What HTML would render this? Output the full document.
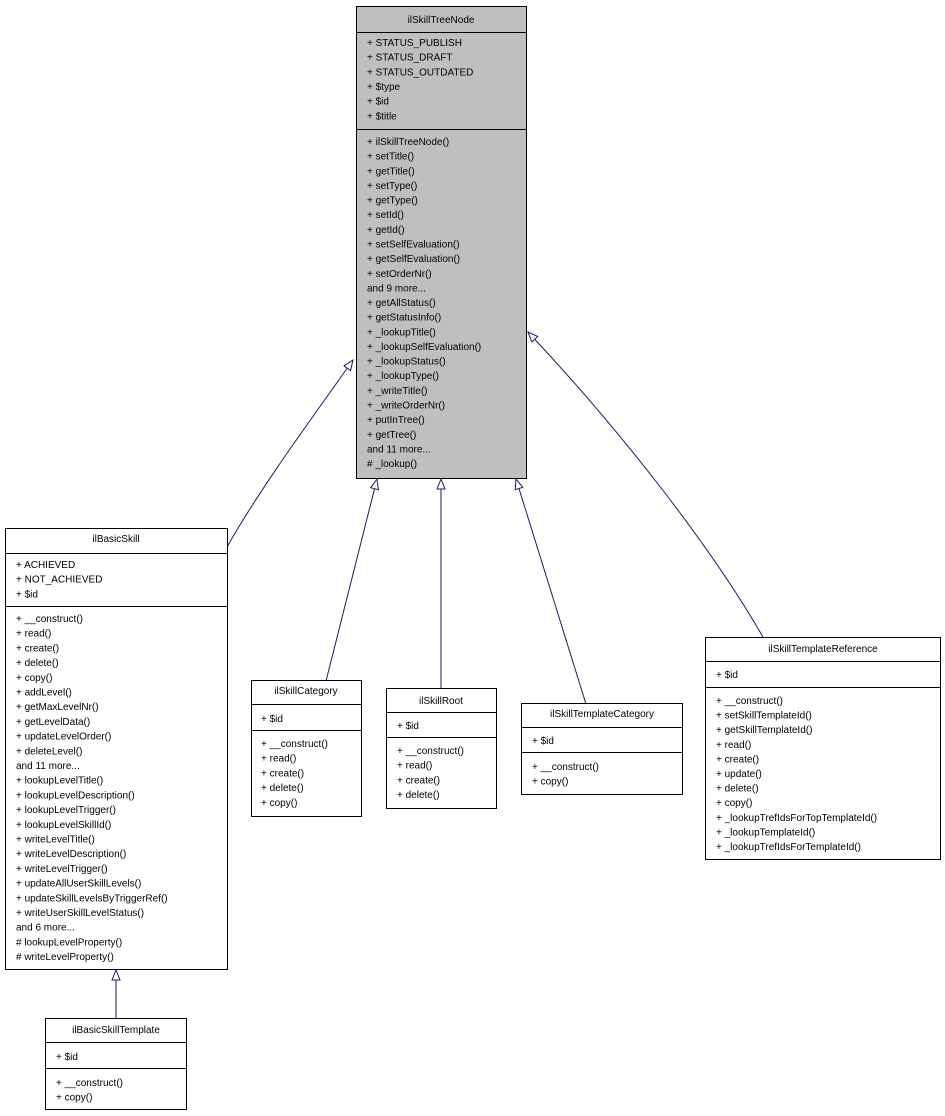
<!DOCTYPE html>
<html><head><meta charset="utf-8"><style>
html,body{margin:0;padding:0;background:#fff}
svg{display:block}
text{font-family:"Liberation Sans",Arial,sans-serif;font-size:10px;fill:#000}
</style></head><body>
<svg width="945" height="1116" viewBox="0 0 945 1116" xmlns="http://www.w3.org/2000/svg">
<defs>
<marker id="a" markerWidth="12" markerHeight="10" refX="11" refY="4.5" orient="auto" markerUnits="userSpaceOnUse">
<path d="M1,0.5 L11,4.5 L1,8.5 Z" fill="#fff" stroke="#191970" stroke-width="1"/>
</marker>
</defs>
<g fill="none" stroke="#191970" stroke-width="1">
<path d="M227,547 C262,485 318,410 353,360" marker-end="url(#a)"/>
<path d="M326,681 L377,479" marker-end="url(#a)"/>
<path d="M441,688 L441,479" marker-end="url(#a)"/>
<path d="M586,704 L516,479" marker-end="url(#a)"/>
<path d="M763,637 C710,545 620,430 528,332" marker-end="url(#a)"/>
<path d="M116,1019 L116,970" marker-end="url(#a)"/>
</g>

<!-- ilSkillTreeNode -->
<rect x="356.5" y="6.5" width="170" height="472" fill="#bfbfbf" stroke="#000"/>
<line x1="356.5" y1="32.5" x2="526.5" y2="32.5" stroke="#000"/>
<line x1="356.5" y1="129.5" x2="526.5" y2="129.5" stroke="#000"/>
<text x="441" y="23" text-anchor="middle">ilSkillTreeNode</text>
<text x="367" y="46"><tspan x="367">+ STATUS_PUBLISH</tspan><tspan x="367" dy="14.65">+ STATUS_DRAFT</tspan><tspan x="367" dy="14.65">+ STATUS_OUTDATED</tspan><tspan x="367" dy="14.65">+ $type</tspan><tspan x="367" dy="14.65">+ $id</tspan><tspan x="367" dy="14.65">+ $title</tspan></text>
<text x="367" y="145"><tspan x="367">+ ilSkillTreeNode()</tspan><tspan x="367" dy="14.64">+ setTitle()</tspan><tspan x="367" dy="14.64">+ getTitle()</tspan><tspan x="367" dy="14.64">+ setType()</tspan><tspan x="367" dy="14.64">+ getType()</tspan><tspan x="367" dy="14.64">+ setId()</tspan><tspan x="367" dy="14.64">+ getId()</tspan><tspan x="367" dy="14.64">+ setSelfEvaluation()</tspan><tspan x="367" dy="14.64">+ getSelfEvaluation()</tspan><tspan x="367" dy="14.64">+ setOrderNr()</tspan><tspan x="367" dy="14.64">and 9 more...</tspan><tspan x="367" dy="14.64">+ getAllStatus()</tspan><tspan x="367" dy="14.64">+ getStatusInfo()</tspan><tspan x="367" dy="14.64">+ _lookupTitle()</tspan><tspan x="367" dy="14.64">+ _lookupSelfEvaluation()</tspan><tspan x="367" dy="14.64">+ _lookupStatus()</tspan><tspan x="367" dy="14.64">+ _lookupType()</tspan><tspan x="367" dy="14.64">+ _writeTitle()</tspan><tspan x="367" dy="14.64">+ _writeOrderNr()</tspan><tspan x="367" dy="14.64">+ putInTree()</tspan><tspan x="367" dy="14.64">+ getTree()</tspan><tspan x="367" dy="14.64">and 11 more...</tspan><tspan x="367" dy="14.64"># _lookup()</tspan></text>

<!-- ilBasicSkill -->
<rect x="5.5" y="528.5" width="222" height="441" fill="#fff" stroke="#000"/>
<line x1="5.5" y1="553.5" x2="227.5" y2="553.5" stroke="#000"/>
<line x1="5.5" y1="606.5" x2="227.5" y2="606.5" stroke="#000"/>
<text x="116" y="542" text-anchor="middle">ilBasicSkill</text>
<text x="16" y="568"><tspan x="16">+ ACHIEVED</tspan><tspan x="16" dy="14.65">+ NOT_ACHIEVED</tspan><tspan x="16" dy="14.65">+ $id</tspan></text>
<text x="16" y="622"><tspan x="16">+ __construct()</tspan><tspan x="16" dy="14.7">+ read()</tspan><tspan x="16" dy="14.7">+ create()</tspan><tspan x="16" dy="14.7">+ delete()</tspan><tspan x="16" dy="14.7">+ copy()</tspan><tspan x="16" dy="14.7">+ addLevel()</tspan><tspan x="16" dy="14.7">+ getMaxLevelNr()</tspan><tspan x="16" dy="14.7">+ getLevelData()</tspan><tspan x="16" dy="14.7">+ updateLevelOrder()</tspan><tspan x="16" dy="14.7">+ deleteLevel()</tspan><tspan x="16" dy="14.7">and 11 more...</tspan><tspan x="16" dy="14.7">+ lookupLevelTitle()</tspan><tspan x="16" dy="14.7">+ lookupLevelDescription()</tspan><tspan x="16" dy="14.7">+ lookupLevelTrigger()</tspan><tspan x="16" dy="14.7">+ lookupLevelSkillId()</tspan><tspan x="16" dy="14.7">+ writeLevelTitle()</tspan><tspan x="16" dy="14.7">+ writeLevelDescription()</tspan><tspan x="16" dy="14.7">+ writeLevelTrigger()</tspan><tspan x="16" dy="14.7">+ updateAllUserSkillLevels()</tspan><tspan x="16" dy="14.7">+ updateSkillLevelsByTriggerRef()</tspan><tspan x="16" dy="14.7">+ writeUserSkillLevelStatus()</tspan><tspan x="16" dy="14.7">and 6 more...</tspan><tspan x="16" dy="14.7"># lookupLevelProperty()</tspan><tspan x="16" dy="14.7"># writeLevelProperty()</tspan></text>

<!-- ilSkillCategory -->
<rect x="251.5" y="680.5" width="110" height="136" fill="#fff" stroke="#000"/>
<line x1="251.5" y1="704.5" x2="361.5" y2="704.5" stroke="#000"/>
<line x1="251.5" y1="730.5" x2="361.5" y2="730.5" stroke="#000"/>
<text x="306" y="694" text-anchor="middle">ilSkillCategory</text>
<text x="261" y="722">+ $id</text>
<text x="261" y="747"><tspan x="261">+ __construct()</tspan><tspan x="261" dy="14.7">+ read()</tspan><tspan x="261" dy="14.7">+ create()</tspan><tspan x="261" dy="14.7">+ delete()</tspan><tspan x="261" dy="14.7">+ copy()</tspan></text>

<!-- ilSkillRoot -->
<rect x="386.5" y="688.5" width="110" height="120" fill="#fff" stroke="#000"/>
<line x1="386.5" y1="712.5" x2="496.5" y2="712.5" stroke="#000"/>
<line x1="386.5" y1="737.5" x2="496.5" y2="737.5" stroke="#000"/>
<text x="441" y="704" text-anchor="middle">ilSkillRoot</text>
<text x="397" y="729">+ $id</text>
<text x="397" y="754"><tspan x="397">+ __construct()</tspan><tspan x="397" dy="14.7">+ read()</tspan><tspan x="397" dy="14.7">+ create()</tspan><tspan x="397" dy="14.7">+ delete()</tspan></text>

<!-- ilSkillTemplateCategory -->
<rect x="521.5" y="703.5" width="161" height="91" fill="#fff" stroke="#000"/>
<line x1="521.5" y1="727.5" x2="682.5" y2="727.5" stroke="#000"/>
<line x1="521.5" y1="752.5" x2="682.5" y2="752.5" stroke="#000"/>
<text x="602" y="717" text-anchor="middle">ilSkillTemplateCategory</text>
<text x="532" y="744">+ $id</text>
<text x="532" y="770"><tspan x="532">+ __construct()</tspan><tspan x="532" dy="14.7">+ copy()</tspan></text>

<!-- ilSkillTemplateReference -->
<rect x="705.5" y="637.5" width="235" height="222" fill="#fff" stroke="#000"/>
<line x1="705.5" y1="661.5" x2="940.5" y2="661.5" stroke="#000"/>
<line x1="705.5" y1="687.5" x2="940.5" y2="687.5" stroke="#000"/>
<text x="823" y="652" text-anchor="middle">ilSkillTemplateReference</text>
<text x="716" y="678">+ $id</text>
<text x="716" y="704"><tspan x="716">+ __construct()</tspan><tspan x="716" dy="14.6">+ setSkillTemplateId()</tspan><tspan x="716" dy="14.6">+ getSkillTemplateId()</tspan><tspan x="716" dy="14.6">+ read()</tspan><tspan x="716" dy="14.6">+ create()</tspan><tspan x="716" dy="14.6">+ update()</tspan><tspan x="716" dy="14.6">+ delete()</tspan><tspan x="716" dy="14.6">+ copy()</tspan><tspan x="716" dy="14.6">+ _lookupTrefIdsForTopTemplateId()</tspan><tspan x="716" dy="14.6">+ _lookupTemplateId()</tspan><tspan x="716" dy="14.6">+ _lookupTrefIdsForTemplateId()</tspan></text>

<!-- ilBasicSkillTemplate -->
<rect x="45.5" y="1018.5" width="141" height="91" fill="#fff" stroke="#000"/>
<line x1="45.5" y1="1042.5" x2="186.5" y2="1042.5" stroke="#000"/>
<line x1="45.5" y1="1068.5" x2="186.5" y2="1068.5" stroke="#000"/>
<text x="116" y="1033" text-anchor="middle">ilBasicSkillTemplate</text>
<text x="56" y="1060">+ $id</text>
<text x="56" y="1086"><tspan x="56">+ __construct()</tspan><tspan x="56" dy="14.7">+ copy()</tspan></text>
</svg>
</body></html>
